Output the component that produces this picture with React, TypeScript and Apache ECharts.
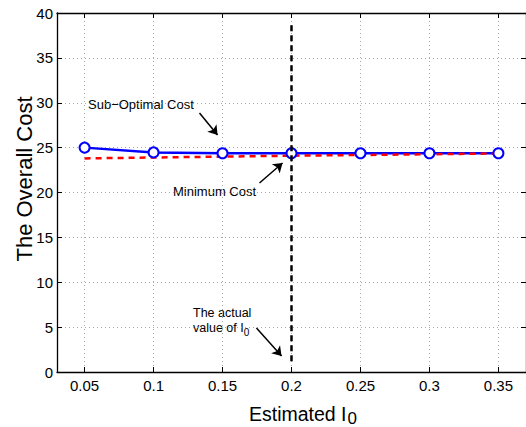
import React, { useEffect, useRef } from "react";
import * as echarts from "echarts";

const estimatedI0 = [0.05, 0.1, 0.15, 0.2, 0.25, 0.3, 0.35];
const subOptimalCost = [25.0, 24.47, 24.38, 24.37, 24.37, 24.37, 24.37];
const minimumCost = [23.8, 23.9, 24.0, 24.1, 24.18, 24.26, 24.35];
const xTicks = [0.05, 0.1, 0.15, 0.2, 0.25, 0.3, 0.35];
const actualI0 = 0.2;
const actualLineY = [1.2, 39];
const arrows = [
  { from: [0.1333, 28.86], to: [0.1464, 26.41] },
  { from: [0.1768, 21.06], to: [0.1935, 23.29] },
  { from: [0.1746, 4.9], to: [0.1928, 1.78] },
];

const FONT = "Liberation Sans, Arial, Helvetica, sans-serif";

export default function App() {
  const ref = useRef<HTMLDivElement>(null);
  useEffect(() => {
    if (!ref.current) return;
    const chart = echarts.init(ref.current, null, { renderer: "svg" });
    const blueData = estimatedI0.map((x, i) => [x, subOptimalCost[i]]);
    const redData = estimatedI0.map((x, i) => [x, minimumCost[i]]);
    const gridLine = { show: true, lineStyle: { color: "#a8a8a8", width: 1, type: [1, 3] } };
    chart.setOption({
      animation: false,
      backgroundColor: "#fff",
      textStyle: { fontFamily: FONT },
      grid: { left: 57, top: 13, right: 0, bottom: 55, containLabel: false },
      xAxis: [
        {
          type: "value",
          min: 0.03,
          max: 0.37,
          position: "bottom",
          axisLine: { show: true, onZero: false, lineStyle: { color: "#000", width: 1.3 } },
          axisTick: { show: true, inside: true, length: 5, customValues: xTicks, lineStyle: { color: "#000" } },
          axisLabel: {
            show: true,
            customValues: xTicks,
            margin: 6,
            color: "#000",
            fontSize: 15,
            fontFamily: FONT,
            formatter: (v: number) => String(Number(v.toFixed(2))),
          },
          splitLine: gridLine,
        },
        {
          type: "value",
          min: 0.03,
          max: 0.37,
          position: "top",
          axisLine: { show: true, onZero: false, lineStyle: { color: "#000", width: 1.3 } },
          axisTick: { show: true, inside: true, length: 5, customValues: xTicks, lineStyle: { color: "#000" } },
          axisLabel: { show: false },
          splitLine: { show: false },
        },
      ],
      yAxis: [
        {
          type: "value",
          min: 0,
          max: 40,
          interval: 5,
          position: "left",
          axisLine: { show: true, onZero: false, lineStyle: { color: "#000", width: 1.3 } },
          axisTick: { show: true, inside: true, length: 5, lineStyle: { color: "#000" } },
          axisLabel: { color: "#000", fontSize: 15, margin: 4, fontFamily: FONT },
          splitLine: gridLine,
        },
        {
          type: "value",
          min: 0,
          max: 40,
          interval: 5,
          position: "right",
          axisLine: { show: true, onZero: false, lineStyle: { color: "#000", width: 1.3 } },
          axisTick: { show: true, inside: true, length: 5, lineStyle: { color: "#000" } },
          axisLabel: { show: false },
          splitLine: { show: false },
        },
      ],
      series: [
        {
          type: "line",
          data: blueData,
          showSymbol: false,
          symbol: "none",
          lineStyle: { color: "#0000ff", width: 2.5 },
          z: 3,
          silent: true,
        },
        {
          type: "line",
          data: redData,
          symbol: "none",
          lineStyle: { color: "#ff0000", width: 2.5, type: [6, 5] },
          z: 4,
          silent: true,
        },
        {
          type: "line",
          data: blueData,
          symbol: "emptyCircle",
          symbolSize: 10,
          lineStyle: { opacity: 0, width: 0 },
          itemStyle: { color: "#0000ff", borderColor: "#0000ff", borderWidth: 2.5 },
          z: 5,
          silent: true,
        },
        {
          type: "line",
          data: actualLineY.map((y) => [actualI0, y]),
          symbol: "none",
          lineStyle: { color: "#000", width: 2.5, type: [6, 4] },
          z: 6,
          silent: true,
          markLine: {
            silent: true,
            symbol: ["none", "arrow"],
            symbolSize: 9,
            label: { show: false },
            lineStyle: { color: "#000", width: 1.5, type: "solid" },
            data: arrows.map((a) => [{ coord: a.from }, { coord: a.to }]),
          },
        },
      ],
      graphic: [
        {
          type: "text",
          x: 24,
          y: 179,
          rotation: Math.PI / 2,
          style: {
            text: "The Overall Cost",
            fontSize: 22,
            fontFamily: FONT,
            fill: "#000",
            align: "center",
            verticalAlign: "middle",
          },
        },
        {
          type: "text",
          left: 249,
          top: 404,
          style: {
            text: "Estimated I{s|0}",
            fontSize: 19.5,
            fontFamily: FONT,
            fill: "#000",
            rich: { s: { fontSize: 17, fontFamily: FONT, fill: "#000", padding: [8, 0, 0, 1] } },
          },
        },
        { type: "text", left: 88, top: 98, style: { text: "Sub\u2212Optimal Cost", fontSize: 13, fontFamily: FONT, fill: "#000" } },
        { type: "text", left: 173, top: 185, style: { text: "Minimum Cost", fontSize: 13, fontFamily: FONT, fill: "#000" } },
        {
          type: "text",
          left: 193,
          top: 306,
          style: { text: "The actual", fontSize: 12.5, lineHeight: 11, fontFamily: FONT, fill: "#000" },
        },
        {
          type: "text",
          left: 193,
          top: 318,
          style: {
            text: "value of I{s|0}",
            fontSize: 12.5,
            lineHeight: 11,
            fontFamily: FONT,
            fill: "#000",
            rich: { s: { fontSize: 10, fontFamily: FONT, fill: "#000", padding: [9, 0, 0, 0], lineHeight: 11 } },
          },
        },
      ],
    });
    return () => chart.dispose();
  }, []);
  return (
    <div
      ref={ref}
      style={{ position: "absolute", left: 0, top: 0, width: 526, height: 427, background: "#fff" }}
    />
  );
}
